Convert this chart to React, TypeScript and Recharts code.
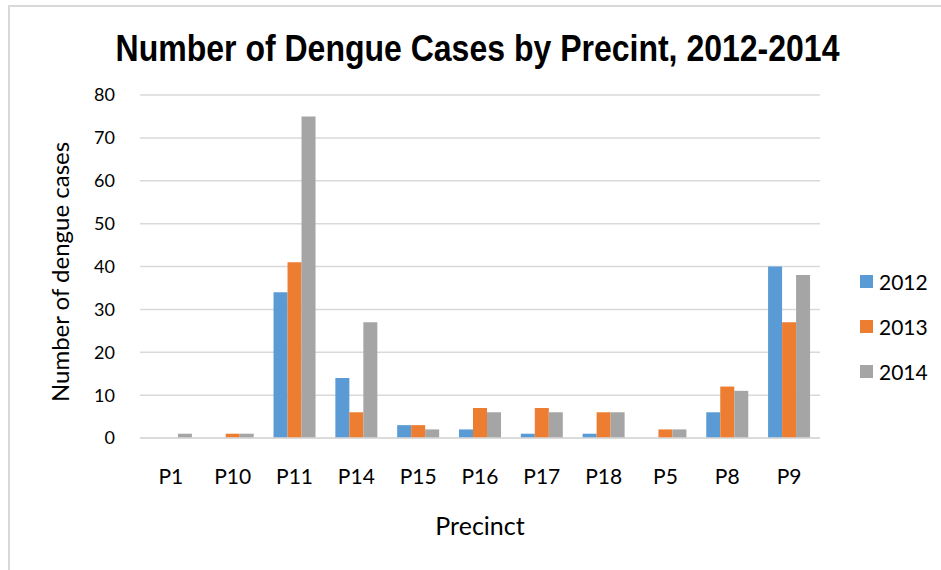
import React from "react";
import { BarChart, Bar, XAxis, YAxis, CartesianGrid } from "recharts";

const precincts = ["P1", "P10", "P11", "P14", "P15", "P16", "P17", "P18", "P5", "P8", "P9"];
const cases2012 = [0, 0, 34, 14, 3, 2, 1, 1, 0, 6, 40];
const cases2013 = [0, 1, 41, 6, 3, 7, 7, 6, 2, 12, 27];
const cases2014 = [1, 1, 75, 27, 2, 6, 6, 6, 2, 11, 38];
const yTicks = [0, 10, 20, 30, 40, 50, 60, 70, 80];

const series = [
  { key: "y2012", name: "2012", color: "#5b9bd5" },
  { key: "y2013", name: "2013", color: "#ed7d31" },
  { key: "y2014", name: "2014", color: "#a5a5a5" },
];

const data = precincts.map((p, i) => ({
  precinct: p,
  y2012: cases2012[i],
  y2013: cases2013[i],
  y2014: cases2014[i],
}));

const font = "Lato, 'Open Sans', sans-serif";

const App: React.FC = () => {
  return (
    <div
      style={{
        position: "absolute",
        left: 8,
        top: 5,
        width: 933,
        height: 565,
        borderLeft: "2px solid #d9d9d9",
        borderTop: "2px solid #d9d9d9",
        background: "#fff",
        fontFamily: font,
      }}
    >
      <div
        style={{
          position: "absolute",
          left: 0,
          top: 23,
          width: 935,
          textAlign: "center",
          fontFamily: "'Liberation Sans', Arial, sans-serif",
          fontWeight: "bold",
          fontSize: 32,
          color: "#000",
          transform: "scaleY(1.15)",
        }}
      >
        Number of Dengue Cases by Precint, 2012-2014
      </div>
      <BarChart
        width={931}
        height={563}
        data={data}
        margin={{ top: 88, left: 90, right: 121, bottom: 0 }}
        barCategoryGap="16%"
        barGap={0}
        style={{ fontFamily: font }}
      >
        <CartesianGrid stroke="#d9d9d9" strokeWidth={1.5} vertical={false} />
        <XAxis
          dataKey="precinct"
          height={132}
          tickLine={false}
          axisLine={{ stroke: "#d9d9d9", strokeWidth: 1.5 }}
          tickSize={0}
          tickMargin={31}
          tick={{ fill: "#000", fontSize: 21 }}
          interval={0}
        />
        <YAxis
          width={40}
          domain={[0, 80]}
          ticks={yTicks}
          tickLine={false}
          axisLine={false}
          tickSize={0}
          tickMargin={25}
          tick={{ fill: "#000", fontSize: 18 }}
        />
        {series.map((s) => (
          <Bar key={s.key} dataKey={s.key} name={s.name} fill={s.color} isAnimationActive={false} />
        ))}
      </BarChart>
      <div
        style={{
          position: "absolute",
          left: 49,
          top: 265,
          transform: "translate(-50%, -50%) rotate(-90deg)",
          whiteSpace: "nowrap",
          fontSize: 24,
          color: "#000",
        }}
      >
        Number of dengue cases
      </div>
      <div
        style={{
          position: "absolute",
          left: 470,
          top: 518,
          transform: "translate(-50%, -50%)",
          fontSize: 25,
          color: "#000",
        }}
      >
        Precinct
      </div>
      {series.map((s, i) => (
        <div
          key={s.key}
          style={{
            position: "absolute",
            left: 850,
            top: 262 + i * 45,
            display: "flex",
            alignItems: "center",
            fontSize: 21,
            color: "#000",
          }}
        >
          <span style={{ width: 13, height: 13, background: s.color, marginRight: 6 }} />
          {s.name}
        </div>
      ))}
    </div>
  );
};

export default App;
